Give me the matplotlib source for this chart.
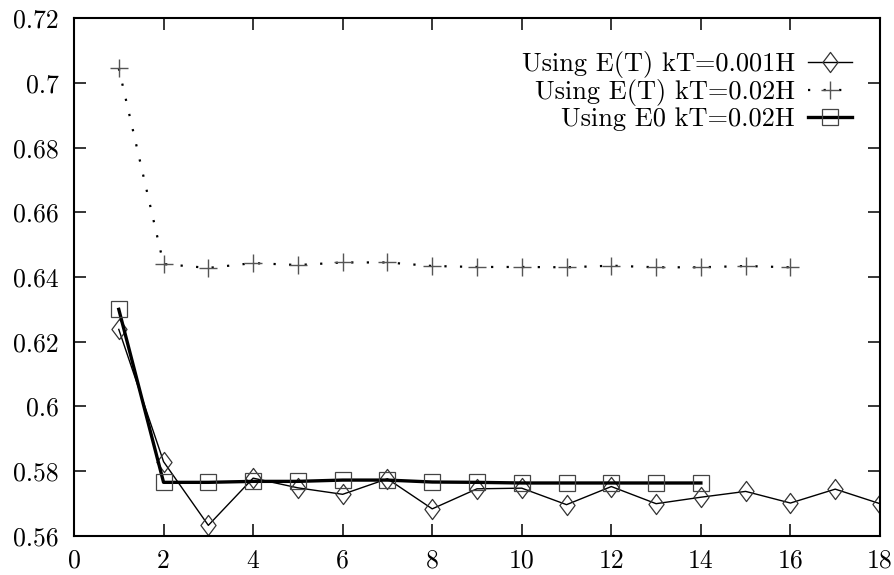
import numpy as np
import matplotlib
matplotlib.use("Agg")
import matplotlib.pyplot as plt
from matplotlib.path import Path

plt.rcParams["font.family"] = ["cmr10", "DejaVu Serif"]
plt.rcParams["axes.formatter.use_mathtext"] = True

# data
x_a = list(range(1, 19))
y_a = [0.6238, 0.5829, 0.5632, 0.5778, 0.5748, 0.5728, 0.5776, 0.5683, 0.5745,
       0.5747, 0.5696, 0.5752, 0.5699, 0.5719, 0.5737, 0.5701, 0.5744, 0.5699]
x_b = list(range(1, 17))
y_b = [0.7045, 0.6440, 0.6428, 0.6443, 0.6437, 0.6445, 0.6445, 0.6434, 0.6431,
       0.6431, 0.6430, 0.6435, 0.6430, 0.6430, 0.6434, 0.6430]
x_c = list(range(1, 15))
y_c = [0.6300, 0.5765, 0.5765, 0.5768, 0.5768, 0.5772, 0.5772, 0.5766, 0.5765,
       0.5763, 0.5763, 0.5763, 0.5763, 0.5763]
labels = ["Using E(T) kT=0.001H", "Using E(T) kT=0.02H", "Using E0 kT=0.02H"]
xticks = [0, 2, 4, 6, 8, 10, 12, 14, 16, 18]
yticks = [0.56, 0.58, 0.6, 0.62, 0.64, 0.66, 0.68, 0.7, 0.72]
ytick_labels = ["0.56", "0.58", "0.6", "0.62", "0.64", "0.66", "0.68", "0.7", "0.72"]

# gnuplot-like tall diamond
diamond = Path([(0, 1), (0.75, 0), (0, -1), (-0.75, 0), (0, 1)],
               [Path.MOVETO, Path.LINETO, Path.LINETO, Path.LINETO, Path.CLOSEPOLY])

fig = plt.figure(figsize=(8.94, 5.75), dpi=100)
ax = fig.add_axes([74 / 894, 1 - 535.7 / 575, 806 / 894, 517.4 / 575])

ax.plot(x_a, y_a, color="black", lw=1.0, marker=diamond, ms=14.5,
        mfc="none", mec="#333333", mew=0.9, label=labels[0])
ax.plot(x_b, y_b, color="black", lw=1.6, ls=(0, (1, 6)), marker="+", ms=13,
        mec="#555555", mew=1.0, label=labels[1])
ax.plot(x_c, y_c, color="black", lw=2.4, marker="s", ms=12,
        mfc="none", mec="#444444", mew=0.9, label=labels[2])

ax.set_xlim(0, 18)
ax.set_ylim(0.56, 0.72)
ax.set_xticks(xticks)
ax.set_xticklabels([str(t) for t in xticks])
ax.set_yticks(yticks)
ax.set_yticklabels(ytick_labels)
ax.tick_params(direction="in", top=True, right=True, length=8.6, width=1.1,
               labelsize=18.5)
ax.tick_params(axis="x", pad=9.5)
ax.tick_params(axis="y", pad=11)
for s in ax.spines.values():
    s.set_linewidth(1.5)

ax.legend(loc="upper right", bbox_to_anchor=(0.9653, 0.937), frameon=False,
          fontsize=19, markerfirst=False, handlelength=1.67, handletextpad=0.5,
          labelspacing=0.04, borderpad=0, borderaxespad=0)

fig.savefig("out.png", dpi=100)
